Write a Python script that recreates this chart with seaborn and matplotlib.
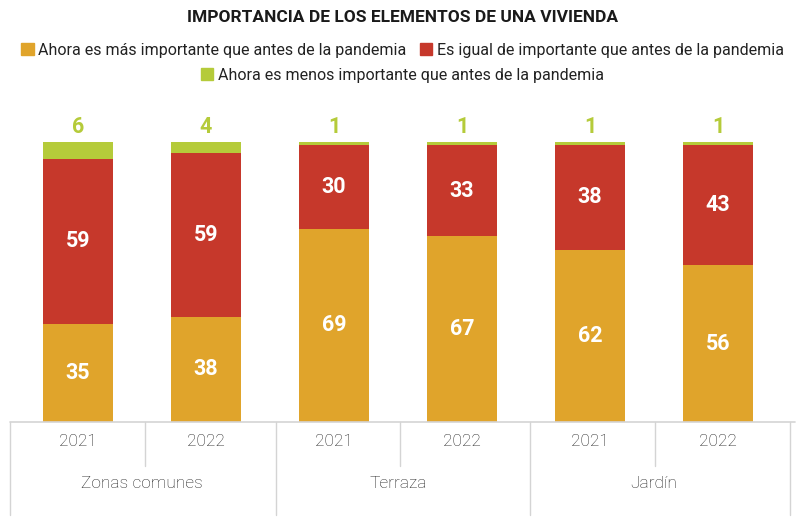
import matplotlib
matplotlib.use("Agg")
import matplotlib.pyplot as plt
import matplotlib.patches as mpatches
import numpy as np
import pandas as pd
import seaborn as sns

# data
groups = ["Zonas comunes", "Terraza", "Jardín"]
years = ["2021", "2022"]
mas_importante = [35, 38, 69, 67, 62, 56]
igual_importante = [59, 59, 30, 33, 38, 43]
menos_importante = [6, 4, 1, 1, 1, 1]
series_names = [
    "Ahora es más importante que antes de la pandemia",
    "Es igual de importante que antes de la pandemia",
    "Ahora es menos importante que antes de la pandemia",
]
colors = ["#E0A42B", "#C6382B", "#B5CB3A"]
title = "IMPORTANCIA DE LOS ELEMENTOS DE UNA VIVIENDA"

sns.set_style("white")
plt.rcParams["font.family"] = ["Roboto", "DejaVu Sans"]

labels = [f"{g}\n{y}" for g in groups for y in years]
df = pd.DataFrame({
    "bar": labels,
    "mas": mas_importante,
    "igual": igual_importante,
    "menos": menos_importante,
})
# rounded shares don't always add to 100: scale each bar to 100 for drawing
total = df["mas"] + df["igual"] + df["menos"]
df["h_mas"] = df["mas"] / total * 100
df["h_igual"] = df["h_mas"] + df["igual"] / total * 100
df["h_menos"] = 100.0

fig = plt.figure(figsize=(8.05, 5.23), dpi=100)
W, H = 805, 523
ax_left, ax_right, ax_bottom, ax_top = 14, 782, 422, 100
ax = fig.add_axes([ax_left / W, 1 - ax_bottom / H,
                   (ax_right - ax_left) / W, (ax_bottom - ax_top) / H])

# stacked bars by layering cumulative totals
bw = 0.55
sns.barplot(data=df, x="bar", y="h_menos", color=colors[2], width=bw,
            saturation=1, ax=ax)
sns.barplot(data=df, x="bar", y="h_igual", color=colors[1], width=bw,
            saturation=1, ax=ax)
sns.barplot(data=df, x="bar", y="h_mas", color=colors[0], width=bw,
            saturation=1, ax=ax)
for p in ax.patches:
    p.set_edgecolor("none")

ax.set_xlim(-0.5, len(labels) - 0.5)
ax.set_ylim(0, (ax_bottom - ax_top) / 2.8)
ax.set_xlabel("")
ax.set_ylabel("")
ax.set_xticks([])
ax.set_yticks([])
sns.despine(ax=ax, left=True, bottom=True)

# value labels
for i, row in df.iterrows():
    ax.text(i, row["h_mas"] / 2, str(row["mas"]), ha="center", va="center",
            color="white", fontsize=15.5, fontweight="bold")
    ax.text(i, (row["h_mas"] + row["h_igual"]) / 2, str(row["igual"]),
            ha="center", va="center", color="white", fontsize=15.5,
            fontweight="bold")
    ax.text(i, row["h_menos"] + 1.6, str(row["menos"]), ha="center",
            va="bottom", color=colors[2], fontsize=15.5, fontweight="bold")

# table-like category axis
line_c = "#d4d4d4"
ax_w = ax_right - ax_left
ax_h = ax_bottom - ax_top
n = len(labels)
trans = ax.get_xaxis_transform()
x_from = -0.5 + (10 - ax_left) / ax_w * n
x_to = -0.5 + (795 - ax_left) / ax_w * n
ax.plot([x_from, x_to], [0, 0], color=line_c, lw=1.2,
        transform=trans, clip_on=False)
sep_px = [10, 145, 276, 400, 530, 655, 790]
for k, px in enumerate(sep_px):
    x = -0.5 + (px - ax_left) / ax_w * n
    if k % 2 == 0:
        y_end = -(515 - ax_bottom) / ax_h
    else:
        y_end = -(466 - ax_bottom) / ax_h
    ax.plot([x, x], [0, y_end], color=line_c, lw=1, transform=trans,
            clip_on=False)
for i in range(n):
    ax.text(i, -(441 - ax_bottom) / ax_h, years[i % 2], ha="center",
            va="center", fontsize=12.5, color="#222222", fontweight="light",
            transform=trans)
for j, g in enumerate(groups):
    ax.text(2 * j + 0.5, -(484 - ax_bottom) / ax_h, g, ha="center",
            va="center", fontsize=12.5, color="#222222", fontweight="light",
            transform=trans)

# title and legend
fig.text(0.5, 1 - 18 / H, title, ha="center", va="center", fontsize=12.5,
         fontweight="bold", color="#1a1a1a")
handles = [mpatches.Patch(color=c, label=s) for c, s in zip(colors, series_names)]
leg1 = fig.legend(handles=handles[:2], ncol=2, loc="center",
                  bbox_to_anchor=(0.5, 1 - 50 / H), frameon=False,
                  fontsize=11.5, handlelength=0.8, handleheight=0.8,
                  handletextpad=0.3, columnspacing=0.8)
leg2 = fig.legend(handles=handles[2:], ncol=1, loc="center",
                  bbox_to_anchor=(0.5, 1 - 75 / H), frameon=False,
                  fontsize=11.5, handlelength=0.8, handleheight=0.8,
                  handletextpad=0.3)
for leg in (leg1, leg2):
    for t in leg.get_texts():
        t.set_color("#222222")

fig.savefig("out.png", dpi=100)
